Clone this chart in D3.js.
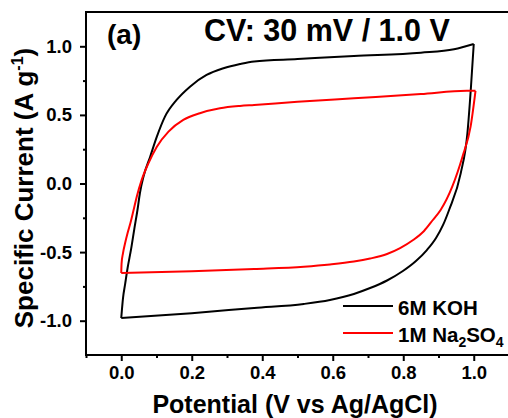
<html>
<head>
<meta charset="utf-8">
<style>
  body { margin: 0; background: #fff; }
  text { font-family: Arial, "Liberation Sans", sans-serif; font-weight: bold; }
</style>
</head>
<body>
<svg id="viz" width="508" height="418"></svg>
<script src="https://d3js.org/d3.v7.min.js"></script>
<script>

// tick values / labels
var xTicks = [0.0, 0.2, 0.4, 0.6, 0.8, 1.0],
    xMinor = [-0.1, 0.1, 0.3, 0.5, 0.7, 0.9],
    yTicks = [-1.0, -0.5, 0.0, 0.5, 1.0],
    yMinor = [-0.75, -0.25, 0.25, 0.75],
    yLabels = ["-1.0", "-0.5", "0.0", "0.5", "1.0"];

var seriesNames = ["6M KOH", "1M Na2SO4"];

// 6M KOH, anodic (forward) and cathodic (reverse) branches
var kohFwd = [[0.0,-0.98],[0.0016,-0.93],[0.005,-0.835],[0.011,-0.733],[0.018,-0.616],[0.028,-0.477],
  [0.037,-0.332],[0.046,-0.193],[0.053,-0.069],[0.063,0.05],[0.082,0.195],[0.101,0.341],[0.124,0.487],
  [0.157,0.609],[0.195,0.706],[0.242,0.791],[0.29,0.84],[0.337,0.871],[0.377,0.89],[0.5,0.907],
  [0.66,0.929],[0.85,0.953],[0.944,0.978],[1.0,1.017]];
var kohRev = [[1.0,1.017],[0.992,0.7],[0.982,0.366],[0.963,0.074],[0.93,-0.193],[0.913,-0.302],
  [0.893,-0.397],[0.867,-0.485],[0.836,-0.565],[0.799,-0.638],[0.754,-0.707],[0.706,-0.762],
  [0.66,-0.805],[0.592,-0.849],[0.518,-0.878],[0.377,-0.907],[0.2,-0.945],[0.0,-0.98]];

// 1M Na2SO4
var naFwd = [[0.0,-0.652],[0.001,-0.58],[0.005,-0.507],[0.011,-0.434],[0.018,-0.361],[0.026,-0.288],
  [0.035,-0.193],[0.044,-0.096],[0.058,0.026],[0.077,0.147],[0.101,0.268],[0.134,0.378],[0.176,0.463],
  [0.223,0.512],[0.28,0.548],[0.337,0.565],[0.377,0.572],[0.5,0.595],[0.66,0.621],[0.85,0.652],
  [0.98,0.676],[1.005,0.676]];
var naRev = [[1.005,0.676],[0.991,0.414],[0.968,0.195],[0.939,-0.023],[0.906,-0.193],[0.884,-0.266],
  [0.859,-0.346],[0.828,-0.412],[0.791,-0.471],[0.754,-0.514],[0.706,-0.547],[0.66,-0.569],
  [0.592,-0.59],[0.518,-0.606],[0.377,-0.623],[0.2,-0.64],[0.0,-0.652]];

var svg = d3.select("#viz");
var mLeft = 86, mRight = 509, mTop = 12, mBottom = 355;

var x = d3.scaleLinear().domain([-0.1, 1.1]).range([mLeft, mRight]),
    y = d3.scaleLinear().domain([-1.25, 1.25]).range([mBottom, mTop]);

// each branch is monotone in x and y, so a monotone curve keeps it smooth
var line = d3.line()
    .x(function(d) { return x(d[0]); })
    .y(function(d) { return y(d[1]); })
    .curve(d3.curveMonotoneX);

var plot = svg.append("g");
[[kohFwd, "#000"], [kohRev.slice().reverse(), "#000"],
 [naFwd, "#f00"], [naRev.slice().reverse(), "#f00"]].forEach(function(s) {
    plot.append("path")
        .attr("d", line(s[0]))
        .attr("fill", "none")
        .attr("stroke", s[1])
        .attr("stroke-width", 2)
        .attr("stroke-linejoin", "round");
});

// frame
svg.append("rect")
    .attr("x", mLeft).attr("y", mTop)
    .attr("width", mRight - mLeft).attr("height", mBottom - mTop)
    .attr("fill", "none").attr("stroke", "#000").attr("stroke-width", 2);

// axes
svg.append("g").attr("transform", "translate(0," + mBottom + ")")
    .call(d3.axisBottom(x).tickValues(xTicks).tickSize(6).tickPadding(5)
        .tickFormat(d3.format(".1f")));
svg.append("g").attr("transform", "translate(0," + mBottom + ")")
    .call(d3.axisBottom(x).tickValues(xMinor).tickSize(3).tickFormat(""));

svg.append("g").attr("transform", "translate(" + mLeft + ",0)")
    .call(d3.axisLeft(y).tickValues(yTicks).tickSize(6).tickPadding(8)
        .tickFormat(function(d, i) { return yLabels[i]; }));
svg.append("g").attr("transform", "translate(" + mLeft + ",0)")
    .call(d3.axisLeft(y).tickValues(yMinor).tickSize(3).tickFormat(""));

svg.selectAll(".domain").remove();
svg.selectAll(".tick line").attr("stroke", "#000").attr("stroke-width", 2);
svg.selectAll(".tick text").attr("fill", "#000").style("font-size", "18.5px")
    .style("font-family", "Arial, 'Liberation Sans', sans-serif").style("font-weight", "bold");

// axis titles
svg.append("text")
    .attr("x", 295).attr("y", 413)
    .attr("text-anchor", "middle")
    .style("font-size", "25px")
    .text("Potential (V vs Ag/AgCl)");

var yt = svg.append("text")
    .attr("transform", "translate(33,188) rotate(-90)")
    .attr("text-anchor", "middle")
    .style("font-size", "26px");
yt.append("tspan").text("Specific Current (A g");
yt.append("tspan").attr("dy", -10).style("font-size", "16px").text("-1");
yt.append("tspan").attr("dy", 10).text(")");

// panel label and title
svg.append("text").attr("x", 107).attr("y", 44).style("font-size", "28px").text("(a)");
svg.append("text").attr("x", 204).attr("y", 41).style("font-size", "30.5px").text("CV: 30 mV / 1.0 V");

// legend
var legend = svg.append("g");
[["#000", 306, 315], ["#f00", 333, 342]].forEach(function(l, i) {
    legend.append("line")
        .attr("x1", 343).attr("x2", 393)
        .attr("y1", l[1]).attr("y2", l[1])
        .attr("stroke", l[0]).attr("stroke-width", 2);
    var t = legend.append("text").attr("x", 398).attr("y", l[2]).style("font-size", "20.5px");
    if (i === 0) {
        t.text(seriesNames[0]);
    } else {
        t.append("tspan").text("1M Na");
        t.append("tspan").attr("dy", 5).style("font-size", "14px").text("2");
        t.append("tspan").attr("dy", -5).text("SO");
        t.append("tspan").attr("dy", 5).style("font-size", "14px").text("4");
    }
});

</script>
</body>
</html>
